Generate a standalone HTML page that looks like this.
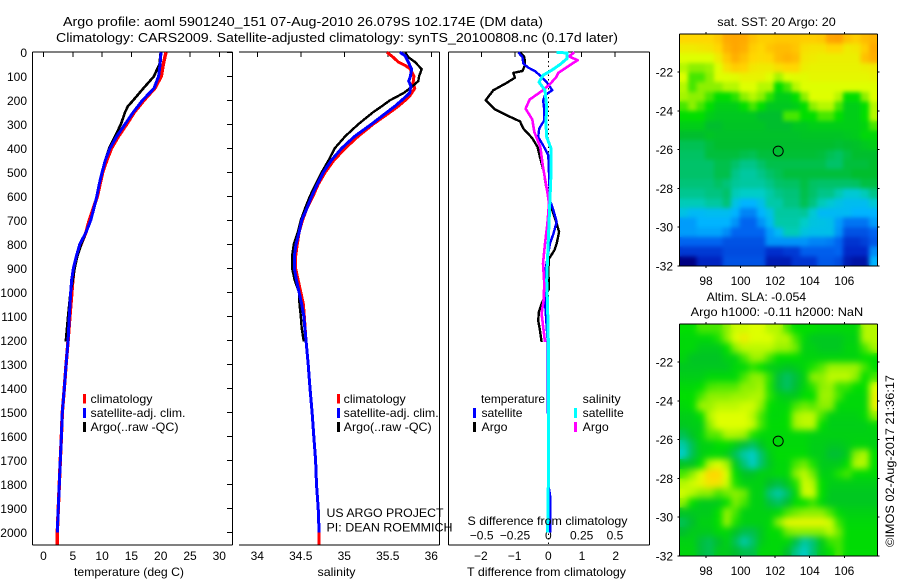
<!DOCTYPE html>
<html>
<head>
<meta charset="utf-8">
<title>Argo profile</title>
<style>
html,body{margin:0;padding:0;background:#fff;}
svg{display:block;}
text{font-family:"Liberation Sans",sans-serif;font-size:12px;fill:#000;}
.ttl{font-size:13px;}
</style>
</head>
<body>
<svg id="chart" xmlns="http://www.w3.org/2000/svg" width="900" height="580" viewBox="0 0 900 580">
<defs>
<filter id="soft-sst" x="-5%" y="-5%" width="110%" height="110%" color-interpolation-filters="sRGB"><feGaussianBlur in="SourceGraphic" stdDeviation="2.2" result="b"/><feMerge><feMergeNode in="SourceGraphic"/><feMergeNode in="b"/></feMerge></filter>
<filter id="soft-sla" x="-5%" y="-5%" width="110%" height="110%" color-interpolation-filters="sRGB"><feGaussianBlur in="SourceGraphic" stdDeviation="3.4" result="b"/><feMerge><feMergeNode in="SourceGraphic"/><feMergeNode in="b"/></feMerge></filter>
<clipPath id="clip-sst"><rect x="679.3" y="34.3" width="198" height="231.7"/></clipPath>
<clipPath id="clip-sla"><rect x="679.3" y="324.3" width="198" height="231.7"/></clipPath>
</defs>
<rect x="0" y="0" width="900" height="580" fill="#fff"/>
<g clip-path="url(#clip-sst)"><g id="heat-sst" filter="url(#soft-sst)"></g></g>
<g clip-path="url(#clip-sla)"><g id="heat-sla" filter="url(#soft-sla)"></g></g>
<g id="layer-axes"></g>
<g id="layer-lines"></g>
<g id="layer-top"></g>

<text class="ttl" x="63" y="26" textLength="480" lengthAdjust="spacingAndGlyphs">Argo profile: aoml 5901240_151 07-Aug-2010 26.079S 102.174E (DM data)</text>
<text class="ttl" x="56" y="42" textLength="562" lengthAdjust="spacingAndGlyphs">Climatology: CARS2009. Satellite-adjusted climatology: synTS_20100808.nc (0.17d later)</text>

<text x="74" y="576" textLength="110" lengthAdjust="spacingAndGlyphs">temperature (deg C)</text>
<text x="317.5" y="576" textLength="38" lengthAdjust="spacingAndGlyphs">salinity</text>
<text x="467.5" y="525" textLength="160" lengthAdjust="spacingAndGlyphs">S difference from climatology</text>
<text x="467" y="576" textLength="159" lengthAdjust="spacingAndGlyphs">T difference from climatology</text>

<g>
<rect x="83" y="394" width="3" height="9.5" fill="#f00"/>
<rect x="83" y="408" width="3" height="10" fill="#00f"/>
<rect x="83" y="422" width="3" height="10" fill="#000"/>
<text x="90.5" y="403" textLength="62" lengthAdjust="spacingAndGlyphs">climatology</text>
<text x="90.5" y="417" textLength="95" lengthAdjust="spacingAndGlyphs">satellite-adj. clim.</text>
<text x="90.5" y="431" textLength="88" lengthAdjust="spacingAndGlyphs">Argo(..raw -QC)</text>
</g>

<g>
<rect x="337" y="394" width="3" height="9.5" fill="#f00"/>
<rect x="337" y="408" width="3" height="10" fill="#00f"/>
<rect x="337" y="422" width="3" height="10" fill="#000"/>
<text x="343.7" y="403" textLength="62" lengthAdjust="spacingAndGlyphs">climatology</text>
<text x="343.7" y="417" textLength="95" lengthAdjust="spacingAndGlyphs">satellite-adj. clim.</text>
<text x="343.7" y="431" textLength="88" lengthAdjust="spacingAndGlyphs">Argo(..raw -QC)</text>
<text x="326.5" y="517" textLength="117" lengthAdjust="spacingAndGlyphs">US ARGO PROJECT</text>
<text x="326.5" y="531.5" textLength="126" lengthAdjust="spacingAndGlyphs">PI: DEAN ROEMMICH</text>
</g>

<g>
<text x="481" y="403" textLength="64" lengthAdjust="spacingAndGlyphs">temperature</text>
<rect x="473" y="408" width="3" height="10" fill="#00f"/>
<rect x="473" y="422" width="3" height="10" fill="#000"/>
<text x="481.5" y="417" textLength="41" lengthAdjust="spacingAndGlyphs">satellite</text>
<text x="481.5" y="431" textLength="26" lengthAdjust="spacingAndGlyphs">Argo</text>
<text x="582.7" y="403" textLength="38" lengthAdjust="spacingAndGlyphs">salinity</text>
<rect x="574" y="408" width="3" height="10" fill="#0ff"/>
<rect x="574" y="422" width="3" height="10" fill="#f0f"/>
<text x="582.7" y="417" textLength="41" lengthAdjust="spacingAndGlyphs">satellite</text>
<text x="582.7" y="431" textLength="26" lengthAdjust="spacingAndGlyphs">Argo</text>
</g>

<text x="717.3" y="26" textLength="118.5" lengthAdjust="spacingAndGlyphs">sat. SST: 20 Argo: 20</text>
<text x="706.7" y="301" textLength="99.5" lengthAdjust="spacingAndGlyphs">Altim. SLA: -0.054</text>
<text x="690.7" y="316" textLength="172.5" lengthAdjust="spacingAndGlyphs">Argo h1000: -0.11 h2000: NaN</text>
<text transform="translate(894,547) rotate(-90)" x="0" y="0" textLength="172" lengthAdjust="spacingAndGlyphs">©IMOS 02-Aug-2017 21:36:17</text>
</svg>

<script>
// ---- Axis ticks ----
const depthTicks = [0,100,200,300,400,500,600,700,800,900,1000,1100,1200,1300,1400,1500,1600,1700,1800,1900,2000];
const tempTicks = [0,5,10,15,20,25,30];
const salTicks = [34,34.5,35,35.5,36];
const salTickLabels = ['34','34.5','35','35.5','36'];
const tdiffTicks = [-2,-1,0,1,2];
const tdiffTickLabels = ['\u22122','\u22121','0','1','2'];
const sdiffTicks = [-0.5,-0.25,0,0.25,0.5];
const sdiffTickLabels = ['\u22120.5','\u22120.25','0','0.25','0.5'];
const lonTicks = [98,100,102,104,106];
const latTicks = [-22,-24,-26,-28,-30,-32];

// ---- Temperature profiles (depth m, deg C) ----
const tempClimDepth = [0,50,100,150,200,250,300,350,400,450,500,550,600,650,700,750,800,850,900,950,1000,1100,1200,1300,1400,1500,1600,1700,1800,1900,2000,2050];
const tempClimValues = [20.9,20.45,20.1,19.0,17.15,15.5,14.2,12.8,11.6,10.8,10.1,9.65,9.2,8.5,7.8,7.25,6.4,5.65,5.2,5.0,4.85,4.5,4.2,3.85,3.55,3.2,3.05,2.87,2.7,2.53,2.36,2.36];
const tempSatDepth = [0,50,100,150,200,250,300,350,400,450,500,550,600,650,700,750,800,850,900,950,1000,1100,1200,1300,1400,1500,1600,1700,1800,1900,2000];
const tempSatValues = [20.05,19.9,19.65,18.85,16.9,15.3,13.9,12.5,11.35,10.55,10,9.5,9.1,8.6,8.05,7.25,6.2,5.6,5.1,4.8,4.65,4.4,4.2,3.85,3.55,3.2,3.05,2.87,2.7,2.53,2.36];
const tempArgoDepth = [0,50,75,100,150,200,225,250,300,350,400,450,500,550,600,650,700,750,800,850,900,950,1000,1100,1205];
const tempArgoValues = [20,19.8,19.3,18.85,17.05,15.3,14.4,13.9,13.2,12.2,11.2,10.55,10,9.5,9.1,8.6,8.05,7.25,6.45,5.77,5.3,5.0,4.6,4.2,3.8];

// ---- Salinity profiles ----
const salClimDepth = [0,20,40,55,68,100,130,150,180,200,225,250,300,350,400,450,500,550,600,650,700,750,800,850,900,950,1000,1050,1100,1200,1300,1400,1500,1600,1700,1800,1900,2000,2050];
const salClimValues = [35.49,35.56,35.62,35.70,35.755,35.8,35.79,35.81,35.755,35.70,35.62,35.525,35.33,35.16,35.01,34.88,34.78,34.70,34.64,34.57,34.52,34.48,34.46,34.44,34.44,34.47,34.50,34.53,34.54,34.56,34.585,34.606,34.63,34.65,34.67,34.68,34.70,34.71,34.71];
const salSatDepth = [0,15,40,70,100,120,140,170,200,225,250,300,350,400,450,500,550,600,650,700,750,800,850,900,950,1000,1050,1100,1200,1300,1400,1500,1600,1700,1800,1900,2000];
const salSatValues = [35.64,35.70,35.735,35.775,35.76,35.74,35.765,35.75,35.66,35.58,35.49,35.31,35.12,34.97,34.85,34.76,34.69,34.625,34.57,34.51,34.48,34.445,34.425,34.425,34.45,34.48,34.51,34.535,34.56,34.585,34.606,34.63,34.65,34.67,34.68,34.70,34.71];
const salArgoDepth = [0,20,40,70,100,120,150,170,200,225,250,300,350,400,450,500,550,600,650,700,750,800,850,900,950,1000,1050,1100,1150,1205];
const salArgoValues = [35.70,35.735,35.81,35.89,35.86,35.85,35.755,35.68,35.525,35.43,35.33,35.16,35.01,34.89,34.82,34.74,34.67,34.605,34.55,34.5,34.465,34.42,34.40,34.40,34.43,34.48,34.485,34.50,34.51,34.535];

// ---- Differences from climatology ----
const dtArgoDepth = [0,20,54,78,86,106,128,158,200,238,262,288,318,357,394,436,500,547,600,630,658,714,748,797,825,860,908,985,1020,1047,1082,1117,1158,1207];
const dtArgoValues = [-0.84,-0.71,-0.69,-0.77,-1.04,-0.99,-1.24,-1.63,-1.86,-1.58,-1.24,-0.84,-0.74,-0.48,-0.32,-0.25,-0.13,-0.08,0,0.02,0.12,0.25,0.32,0.25,0.18,0.02,0,0.02,-0.1,-0.2,-0.28,-0.3,-0.25,-0.2];
const dtSatDepth = [0,20,47,64,78,96,124,158,179,200,242,283,318,353,388,429,506,617,658,707,756,797,853,922,1033,1200,1800,1853,2000];
const dtSatValues = [-0.89,-0.77,-0.74,-0.59,-0.4,-0.25,-0.05,0.12,-0.1,-0.15,-0.12,-0.12,-0.27,-0.3,-0.15,0,0.02,0.05,0.15,0.25,0.15,0.05,-0.02,-0.1,-0.1,-0.02,0,0.06,0.06];
const dsArgoDepth = [0,17,33,54,86,103,133,158,197,235,280,332,394,478,589,630,714,797,880,964,1033,1089,1158,1207];
const dsArgoValues = [0.195,0.155,0.22,0.16,0.075,0.06,0.012,-0.04,-0.14,-0.17,-0.12,-0.105,-0.06,-0.04,-0.005,0.005,-0.007,-0.025,-0.04,-0.03,-0.035,-0.05,-0.035,-0.025];
const dsSatDepth = [0,3,26,50,75,96,124,158,228,297,353,401,506,617,714,853,950,1061,1200,1800,2000];
const dsSatValues = [0.0625,0.14,0.14,0.09,0.025,-0.04,-0.07,-0.025,-0.012,-0.018,-0.012,0.02,0.02,0.012,0.005,-0.005,-0.012,-0.005,0,0,-0.005];

// ---- Map cell levels (colour-scale units, north to south, west to east) ----
const sstCells = [
[10,10,10,10,10.3,11,11.2,11,10.5,10.2,10.2,10.3,10.3,10.3,10.2,10.2,10.3,11.3,11.5,10.5,10.2,10.6,10.8],
[9.5,9.5,9.6,9.7,10,10.8,11.2,10.9,10.2,10,10.4,10.6,10.6,10.4,9.8,9.7,9.7,10,10,9.5,9.6,10.2,11],
[9,9,9,9,9.5,10.3,10.9,10.5,10,9.9,10,10.6,10.8,10.6,9.6,9.5,9.4,9.4,9.4,9.4,9.4,10.5,10.9],
[8.5,8,8,8.2,9,9.8,10.2,10.1,9.6,9.5,9.5,9.8,10,10,9.4,9.3,9.3,9.3,9.3,9.3,9.3,9.4,9.5],
[9,7.5,7.5,8,9,9,9.1,9.3,9.3,9.3,9,8.3,9,9.1,9.1,9.2,9.2,9.2,9.2,9.2,9.2,9.2,9.3],
[8.5,7.5,8,8,8,8.5,8.5,9,9,8.5,8.5,7,7.5,8.5,9,9,9,9,9,9,9,9,9],
[8.3,8,8,7.5,7,7,7.3,8,8.5,8,7.3,6.5,6.5,7,8,9,9,9,8.5,7,7,8,9],
[7.5,8,7.5,7,6.5,6.5,6.5,7,7.5,7,6.3,6.3,6.3,6.5,7,8,8.5,8.5,7.5,6.5,6.5,7,8.5],
[7,7,7,6.5,6.3,6.3,6.3,6.3,6.3,6,6,6,7.5,7.5,7,7,7.5,7.5,7,6.5,6.5,7,8.5],
[6.5,6.5,6.5,6,6,6.2,6.2,6.2,6.2,6.2,6,6,6,6.3,6.3,6.5,6.5,6.5,6.5,6.5,6.5,6.7,7.5],
[6,6,6,6.2,6.1,6.1,6.1,6.1,6.1,6.1,6.1,6.1,6.1,6.1,6.2,6.2,6.2,6.2,6.2,6.3,6.4,6.8,6.8],
[5.5,5.5,5.5,5.8,6,6,6,6,6,6,6,6,6,6,6,6,6,6,5.9,6,6.1,6.3,6.5],
[5.3,5.3,5.3,5.8,5.8,5.8,5.8,5.6,5.5,5.8,5.8,5.9,5.9,5.9,5.9,5.9,5.8,5.5,5.3,5.7,6,6,6],
[5.2,5.2,5.2,5.2,5.6,5.6,5.2,4.8,4.8,5.2,5.6,5.6,5.6,5.6,5.6,5.6,5.6,5.2,5.2,5.8,5.8,5.8,6],
[5.2,5.2,5.2,5.2,5.6,5.6,4.8,4.5,4.5,4.8,5.2,5.5,5.8,5.8,5.8,5.8,5.8,5.8,5.8,5.8,6,6,6],
[5,5,5,5,5.3,5,4.6,4.5,4.5,4.5,4.8,5.2,5.3,5.3,5.7,5.3,5.2,5.2,5.2,5.2,5.3,5.7,5.7],
[4.7,4.7,4.7,4.9,4.9,5.2,4.2,4,4,4,4.4,4.8,5,5,5.6,5.2,4.8,4.8,4.3,3.8,3.8,4.2,4.8],
[4.2,4.2,4.2,4.5,4.5,5,3.5,3,3,3.4,4.4,4.4,4.9,4.9,5.5,4.9,4.2,3.8,3.5,3.3,3.3,3.3,3.8],
[3.5,3.2,3.2,3.3,3.3,3.3,3,2.4,2.4,3,3.5,4.5,4.5,4.5,4.6,3.8,3.2,3.2,3.2,3.2,3,3,3],
[2.7,2.7,3,3,3,3,2.6,2,2,2.6,3.2,4.4,4.4,4.4,4,3.6,3.5,3.4,2.7,2.2,2.2,2.2,2.7],
[2.7,2.7,2.8,2.8,2.8,2.5,2,2,2,2,2.7,3.2,4.2,4.2,3.6,3.4,3.4,3.4,2.6,1.7,1.7,1.7,2],
[2,2,2,2,2,1.7,1.7,1.7,1.7,1.7,2.6,2.6,2.6,2.6,2.6,2.4,2.4,2.3,2,1.2,1.2,1.4,1.8],
[1.3,1.3,1.3,1.3,1.3,1.6,1.6,1.6,1.6,1.6,1.1,1.1,1.3,1.3,1.9,1.9,1.9,1.9,2,1,1,1,2.5],
[0,0,0.9,0.9,0.9,1.7,1.7,1.7,1.7,1.7,0.7,0.7,0.7,1.2,1.2,1.2,1.8,1.8,1.6,0.7,0.5,0.5,3]
];
const slaCells = [
[7,7,7.5,7.5,7.5,8,8.8,8.8,9,9,8.5,8.5,7.5,7,7,7,6.8,6.8,6.8,6.8,6.8,8.5,8.5],
[6.8,6.8,6.8,6.8,7.2,8,9,9.5,9,9,9,8.5,8.5,7.5,6.8,6.3,6.3,6.3,6.3,6.6,6.6,8.5,8.5],
[6.8,6.8,6.4,6.4,6.4,7,8,8.6,8.6,8.6,8.6,8.2,8.2,7.8,6.6,6.6,6.3,6.3,6.3,6.7,6.7,7.5,8.3],
[6.7,6.2,6.2,6.2,6.2,6.6,6.6,7.5,8.2,8.2,7.5,7,7,7,6.7,6.7,6.7,6.7,6.7,6.7,6.7,7,7],
[6.3,6.3,6.3,6.3,6.3,6.3,6.8,6.8,7.3,7,6.5,6.5,6.2,6.4,6.8,7.2,7.6,8.2,8.2,8.2,8.2,7.5,7],
[6.5,6.5,6.5,6.8,6.8,6.8,6.8,7.5,8,8,7.3,5.8,5.3,5.8,6.6,8,8,8.6,8.6,8.6,8,7,7.5],
[6.8,6.8,7,7.5,7.6,7.6,7.6,8,8,8.3,7.2,5.8,5.3,5.9,6.7,7.3,8,8.2,7.4,7.4,7,7,9],
[7,7,7.5,8,8,8,8.2,8.2,8.4,8.4,7.3,6.6,6.4,6.4,7,7,8.2,8.2,7.5,6.8,6.8,6.8,9.3],
[6.8,7,8.2,8.2,8.6,8.6,8.6,8.8,8.8,8,7,6.8,6.8,7.5,7.8,7.6,8,8,6.8,6.8,6.8,6.8,9.3],
[6.5,6.5,7,8.5,9,9,9,9,8.5,7.5,6.8,6.8,7,8.3,8.6,8.6,7.5,6.6,6.6,6.6,6.6,6.9,8],
[6.3,6.5,6.5,8,9,9,9,9,8.7,7.5,6.9,6.9,7,8.3,8.6,8.6,7,6.5,6.5,6.5,6.5,6.5,6.8],
[5.5,6.2,6.7,7.6,7.6,8.4,8.4,8.2,7.2,6.8,6.8,6.8,6.8,6.8,6.8,6.6,6.6,6.6,6.6,6.6,6.6,6.6,6.6],
[4.4,5.5,6.6,6.6,7,7,6.5,5.8,5.3,6.2,6.8,6.8,6.8,6.8,6.8,6.5,6.5,6.3,6.3,6.5,6.7,6.7,6.6],
[4,5.5,6.5,6.8,6.8,6.5,5.4,4.4,4,5.2,6.5,6.9,6.9,6.9,6.9,6.5,6.5,5.9,5.9,6.4,8,8.5,7],
[6.2,6.2,7,8.5,9,8.3,6.4,5,4,5.2,6.3,6.8,6.8,7.5,7.8,7.2,6.4,6.4,6.4,7,8.5,8.5,7],
[7.5,8,9,10,10,9,7,6.2,6.2,6.6,6.6,6.8,6.8,8,8.6,7.8,6.6,6.6,7.2,7.5,6.9,6.9,6.9],
[8.5,8.8,9.2,9.7,9.7,8.8,7.2,6.6,6.6,6.6,6,5.7,6.3,7.2,8.8,8.5,7,6.5,6.5,6.5,6.5,6.5,6.5],
[8.8,8.5,8,8,7.5,7.8,8,7.8,6.6,6.6,5,4.4,5.2,6.7,8.8,8.8,7,6.3,6.3,6.3,6.3,6.3,6.3],
[8,7,6.4,6.4,6.4,7,7.9,7.5,6.6,6.6,5.7,5.3,5.9,7,7,7.4,6.8,6.3,6.3,6.3,6.3,6.3,6.3],
[6.2,6.3,6.4,6.4,7,8.1,7.5,6.6,6.6,6.6,6.6,6.8,7.5,7.8,8,8,8,7.5,6.8,6.6,6.6,6.6,6.6],
[5.5,6,6.6,6.6,7,8.2,7.2,6.6,6.6,6.6,6.8,8,9.2,9.2,9.2,9.2,9.2,8.8,7.4,6.8,6.8,6.8,6.8],
[6,6.4,6.4,6.4,6.8,6.8,6.2,5.6,5.6,6.3,6.9,6.9,7.8,8,8,8,8,8.6,7.8,6.9,6.9,6.9,6.9],
[6.6,6.6,5.8,5.5,6,6.6,5.5,4.4,5.2,6.4,6.8,6.8,6.8,5.6,4.5,5,6.4,7.4,7.5,6.9,6.9,6.9,6.9],
[6.7,6.7,5.8,5.5,6.4,6.4,6,5.6,5.6,6.8,6.8,6.8,6,4.8,4,5,6.4,7,7.5,6.9,6.9,6.9,6.9]
];

// ---- Float position ----
const floatLon = 102.174;
const floatLat = -26.079;

// ---- Scales ----
const NS = 'http://www.w3.org/2000/svg';
const axesLayer = document.getElementById('layer-axes');
const linesLayer = document.getElementById('layer-lines');
const topLayer = document.getElementById('layer-top');
const PLOT_TOP = 52, PLOT_BOTTOM = 545;
function yDepth(d){ return 52.3 + d * 0.24; }
function xTemp(t){ return 43.5 + t * 5.86; }
function xSal(s){ return 257.3 + (s - 34) * 87; }
function xDT(t){ return 548.3 + t * 33.7; }
function xDS(s){ return 548.3 + s * 133.3; }
function xLon(l){ return 706 + (l - 98) * 17.29; }
function yLat1(l){ return 72 + (-22 - l) * 19.4; }
function yLat2(l){ return 362 + (-22 - l) * 19.4; }

function make(tag, attrs, parent){
  const el = document.createElementNS(NS, tag);
  for (const k in attrs) el.setAttribute(k, attrs[k]);
  parent.appendChild(el);
  return el;
}
function axisLine(x1, y1, x2, y2, name){
  const el = make('line', {x1:x1, y1:y1, x2:x2, y2:y2, stroke:'#000', 'stroke-width':1, 'shape-rendering':'crispEdges'}, axesLayer);
  
  
  return el;
}
function label(x, y, str, anchor, name){
  const el = make('text', {x:x, y:y, 'text-anchor':anchor}, axesLayer);
  el.textContent = str;
  
  
  return el;
}
function profile(depths, values, xf, color, width, name){
  const pts = depths.map(function(d, i){ return xf(values[i]).toFixed(1) + ',' + yDepth(d).toFixed(1); }).join(' ');
  const el = make('polyline', {points:pts, fill:'none', stroke:color, 'stroke-width':width, 'stroke-linejoin':'round', 'shape-rendering':'crispEdges'}, linesLayer);
  
  
  return el;
}

// ---- Profile panel frames ----
axisLine(32.5, PLOT_TOP, 232.5, PLOT_TOP, 'temperature-top-axis');
axisLine(32.5, PLOT_BOTTOM, 232.5, PLOT_BOTTOM, 'temperature-bottom-axis');
axisLine(32.5, PLOT_TOP, 32.5, PLOT_BOTTOM, 'depth-axis');
axisLine(232.5, PLOT_TOP, 232.5, PLOT_BOTTOM, 'temperature-right-axis');
axisLine(239, PLOT_TOP, 439.5, PLOT_TOP, 'salinity-top-axis');
axisLine(239, PLOT_BOTTOM, 439.5, PLOT_BOTTOM, 'salinity-bottom-axis');
axisLine(439.5, PLOT_TOP, 439.5, PLOT_BOTTOM, 'salinity-right-axis');
axisLine(448.5, PLOT_TOP, 649.5, PLOT_TOP, 'difference-top-axis');
axisLine(448.5, PLOT_BOTTOM, 649.5, PLOT_BOTTOM, 'difference-bottom-axis');
axisLine(448.5, PLOT_TOP, 448.5, PLOT_BOTTOM, 'difference-left-axis');
axisLine(649.5, PLOT_TOP, 649.5, PLOT_BOTTOM, 'difference-right-axis');

depthTicks.forEach(function(d){
  const y = yDepth(d);
  axisLine(227, y, 232.5, y, 'depth-tick');
  label(27, y + 4.5, String(d), 'end', 'depth-tick-label');
});
tempTicks.forEach(function(t){
  axisLine(xTemp(t), PLOT_TOP, xTemp(t), PLOT_TOP + 5, 'temperature-tick');
  label(xTemp(t), 560, String(t), 'middle', 'temperature-tick-label');
});
salTicks.forEach(function(s, i){
  axisLine(xSal(s), PLOT_TOP, xSal(s), PLOT_TOP + 5, 'salinity-tick');
  label(xSal(s), 560, salTickLabels[i], 'middle', 'salinity-tick-label');
});
tdiffTicks.forEach(function(t, i){
  label(xDT(t), 560, tdiffTickLabels[i], 'middle', 't-difference-tick-label');
});
sdiffTicks.forEach(function(s, i){
  axisLine(xDS(s), PLOT_TOP, xDS(s), PLOT_TOP + 5, 's-difference-tick');
  label(xDS(s), 539.5, sdiffTickLabels[i], 'middle', 's-difference-tick-label');
});

// zero reference
const zeroLine = make('line', {x1:xDT(0), y1:PLOT_TOP, x2:xDT(0), y2:PLOT_BOTTOM, stroke:'#000', 'stroke-width':1, 'stroke-dasharray':'1.5 3', 'shape-rendering':'crispEdges'}, linesLayer);



// ---- Series ----
profile(tempClimDepth, tempClimValues, xTemp, '#f00', 3.4, 'temperature-climatology-line');
profile(tempArgoDepth, tempArgoValues, xTemp, '#000', 2.6, 'temperature-argo-line');
profile(tempSatDepth, tempSatValues, xTemp, '#00f', 3, 'temperature-satellite-line');
profile(salClimDepth, salClimValues, xSal, '#f00', 3, 'salinity-climatology-line');
profile(salArgoDepth, salArgoValues, xSal, '#000', 2.4, 'salinity-argo-line');
profile(salSatDepth, salSatValues, xSal, '#00f', 3, 'salinity-satellite-line');
profile(dtArgoDepth, dtArgoValues, xDT, '#000', 2.4, 't-difference-argo-line');
profile(dtSatDepth, dtSatValues, xDT, '#00f', 2.4, 't-difference-satellite-line');
profile(dsArgoDepth, dsArgoValues, xDS, '#f0f', 2.6, 's-difference-argo-line');
profile(dsSatDepth, dsSatValues, xDS, '#0ff', 3, 's-difference-satellite-line');

// ---- Colour scale ----
const colourStops = [[0,0,130],[0,40,200],[0,100,240],[0,180,255],[0,205,200],[0,195,120],[0,190,45],[0,222,0],[140,240,0],[222,255,0],[255,215,0],[255,170,0],[255,150,0]];
function levelColour(v){
  const c = Math.max(0, Math.min(colourStops.length - 1.001, v));
  const i = Math.floor(c), f = c - i;
  const a = colourStops[i], b = colourStops[i + 1];
  return 'rgb(' + Math.round(a[0] + (b[0]-a[0])*f) + ',' + Math.round(a[1] + (b[1]-a[1])*f) + ',' + Math.round(a[2] + (b[2]-a[2])*f) + ')';
}

// ---- Maps ----
const LON_MIN = 96.46, LON_MAX = 107.92, LAT_MAX = -20.03, LAT_MIN = -32;
function drawMap(cells, yLat, prefix, heatLayer){
  const nRows = cells.length, nCols = cells[0].length;
  const dLon = (LON_MAX - LON_MIN) / nCols, dLat = (LAT_MAX - LAT_MIN) / nRows;
  cells.forEach(function(row, j){
    row.forEach(function(v, i){
      const x0 = xLon(LON_MIN + i * dLon), x1 = xLon(LON_MIN + (i + 1) * dLon);
      const y0 = yLat(LAT_MAX - j * dLat), y1 = yLat(LAT_MAX - (j + 1) * dLat);
      const cell = make('rect', {x:x0.toFixed(2), y:y0.toFixed(2), width:(x1-x0+0.4).toFixed(2), height:(y1-y0+0.4).toFixed(2), fill:levelColour(v), 'shape-rendering':'crispEdges'}, heatLayer);
      
      
    });
  });
  const left = xLon(LON_MIN), right = xLon(LON_MAX), top = yLat(LAT_MAX), bottom = yLat(LAT_MIN);
  axisLine(left, top, right, top, prefix + '-top-axis');
  axisLine(left, bottom, right, bottom, prefix + '-bottom-axis');
  axisLine(left, top, left, bottom, prefix + '-left-axis');
  axisLine(right, top, right, bottom, prefix + '-right-axis');
  lonTicks.forEach(function(l){
    axisLine(xLon(l), top - 2, xLon(l), top, prefix + '-lon-tick');
    axisLine(xLon(l), bottom, xLon(l), bottom + 2, prefix + '-lon-tick');
    label(xLon(l), bottom + 19, String(l), 'middle', prefix + '-lon-label');
  });
  latTicks.forEach(function(l){
    axisLine(left - 2, yLat(l), left, yLat(l), prefix + '-lat-tick');
    axisLine(right, yLat(l), right + 2, yLat(l), prefix + '-lat-tick');
    label(673, yLat(l) + 4.5, '-' + Math.abs(l), 'end', prefix + '-lat-label');
  });
  const marker = make('circle', {cx:xLon(floatLon).toFixed(1), cy:yLat(floatLat).toFixed(1), r:5, fill:'none', stroke:'#000', 'stroke-width':1}, topLayer);
  
  
}
drawMap(sstCells, yLat1, 'sst-map', document.getElementById('heat-sst'));
drawMap(slaCells, yLat2, 'sla-map', document.getElementById('heat-sla'));
</script>
</body>
</html>
